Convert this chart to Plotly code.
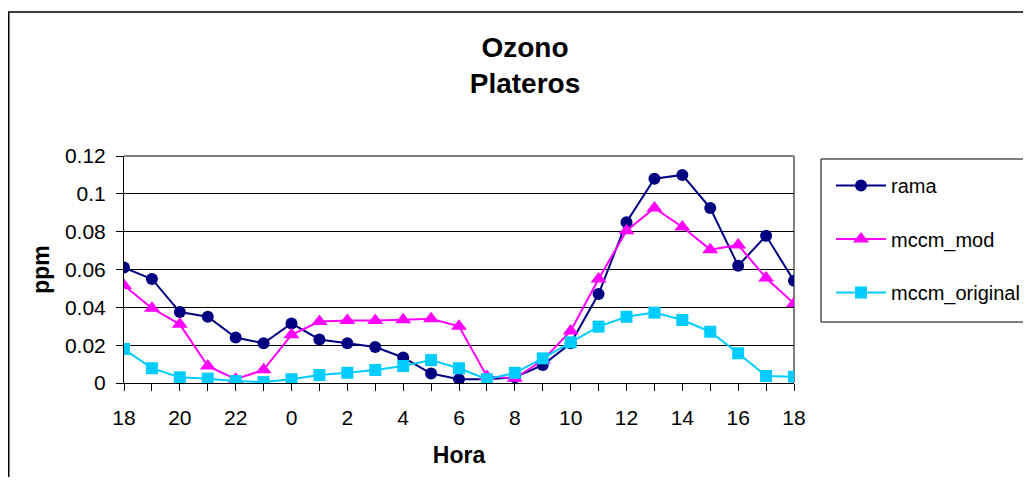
import plotly.graph_objects as go

hours = [18, 19, 20, 21, 22, 23, 0, 1, 2, 3, 4, 5, 6, 7, 8, 9, 10, 11, 12, 13, 14, 15, 16, 17, 18]
rama = [0.061, 0.055, 0.0375, 0.035, 0.024, 0.021, 0.0315, 0.023, 0.021, 0.019, 0.0135, 0.005,
        0.002, 0.002, 0.003, 0.0095, 0.021, 0.047, 0.085, 0.108, 0.110, 0.0925, 0.062, 0.0778, 0.054]
mccm_mod = [0.0515, 0.0395, 0.031, 0.009, 0.002, 0.007, 0.0255, 0.0325, 0.033, 0.033, 0.0335, 0.034,
            0.030, 0.0035, 0.0025, 0.012, 0.0275, 0.055, 0.0805, 0.0925, 0.0825, 0.0705, 0.073, 0.0555, 0.042]
mccm_original = [0.018, 0.0078, 0.003, 0.0023, 0.001, 0.0005, 0.002, 0.0042, 0.0054, 0.0069, 0.009, 0.0121,
                 0.0078, 0.002, 0.0054, 0.013, 0.0215, 0.0298, 0.035, 0.0372, 0.0333, 0.0271, 0.0157, 0.0037, 0.0033]
y_ticks = [0, 0.02, 0.04, 0.06, 0.08, 0.1, 0.12]

idx = list(range(len(hours)))
FONT = "Arial, Liberation Sans, sans-serif"

# page body has an 8px margin; keep the figure inside the window so nothing overflows
OFF = 8
W, H = 1031 - 2 * OFF, 485 - 2 * OFF
L, T = 124 - OFF, 156 - OFF
R = W - (794 - OFF)
B = H - (383 - OFF)
PW, PH = W - L - R, H - T - B


def px(xs):
    return (xs - OFF - L) / PW


def py(ys):
    return (H - B - (ys - OFF)) / PH


fig = go.Figure()
series = [
    ("rama", rama, "#000080", "circle", 12),
    ("mccm_mod", mccm_mod, "#FF00FF", "triangle-up", 14),
    ("mccm_original", mccm_original, "#00CCFF", "square", 12),
]
for name, vals, col, sym, sz in series:
    fig.add_trace(go.Scatter(
        x=idx, y=vals, name=name, mode="lines+markers", legendgroup=name,
        line=dict(color=col, width=2),
        marker=dict(symbol=sym, size=sz, color=col, line=dict(width=0)),
    ))

fig.update_layout(
    width=W, height=H,
    margin=dict(l=L, r=R, t=T, b=B, autoexpand=False),
    paper_bgcolor="white", plot_bgcolor="white",
    font=dict(family=FONT, size=21, color="black"),
    title=dict(text="<b>Ozono</b><br><b>Plateros</b>", x=(525 - OFF) / W, xanchor="center",
               y=1 - (57 - OFF) / H, yanchor="middle", yref="container",
               font=dict(family=FONT, size=28, color="black")),
    showlegend=True,
    legend=dict(x=px(831), y=py(166), xanchor="left", yanchor="top",
                font=dict(family=FONT, size=20), tracegroupgap=24.5,
                bgcolor="rgba(0,0,0,0)", borderwidth=0, itemwidth=50),
    xaxis=dict(range=[0, 24], tickmode="array", tickvals=idx[::2], ticktext=[str(h) for h in hours[::2]],
               showgrid=False, zeroline=False, showline=True, linecolor="black", linewidth=1,
               ticks="outside", ticklen=7, tickcolor="black", ticklabelstandoff=9, automargin=False,
               minor=dict(tickmode="array", tickvals=idx, ticks="outside", ticklen=7, tickcolor="black"),
               title=dict(text="<b>Hora</b>", font=dict(size=23), standoff=18)),
    yaxis=dict(range=[0, 0.12], tickmode="array", tickvals=y_ticks,
               ticktext=[f"{v:g}" for v in y_ticks],
               showgrid=True, gridcolor="black", gridwidth=1, zeroline=False,
               showline=True, linecolor="black", linewidth=1, automargin=False,
               ticks="outside", ticklen=7, tickcolor="black", ticklabelstandoff=6,
               title=dict(text="<b>ppm</b>", font=dict(size=23), standoff=8)),
    shapes=[
        # plot area top/right border (gray)
        dict(type="line", xref="paper", yref="paper", x0=0, x1=1, y0=1, y1=1,
             line=dict(color="#808080", width=2), layer="above"),
        dict(type="line", xref="paper", yref="paper", x0=1, x1=1, y0=0, y1=1,
             line=dict(color="#808080", width=2), layer="below"),
        # legend box
        dict(type="rect", xref="paper", yref="paper", x0=px(821), x1=px(1045), y0=py(159), y1=py(322),
             line=dict(color="black", width=1)),
        # outer chart frame
        dict(type="rect", xref="paper", yref="paper", x0=px(8.75), x1=px(1045), y0=py(12), y1=py(500),
             line=dict(color="black", width=1.5)),
    ],
)

fig.write_html("out.html")
